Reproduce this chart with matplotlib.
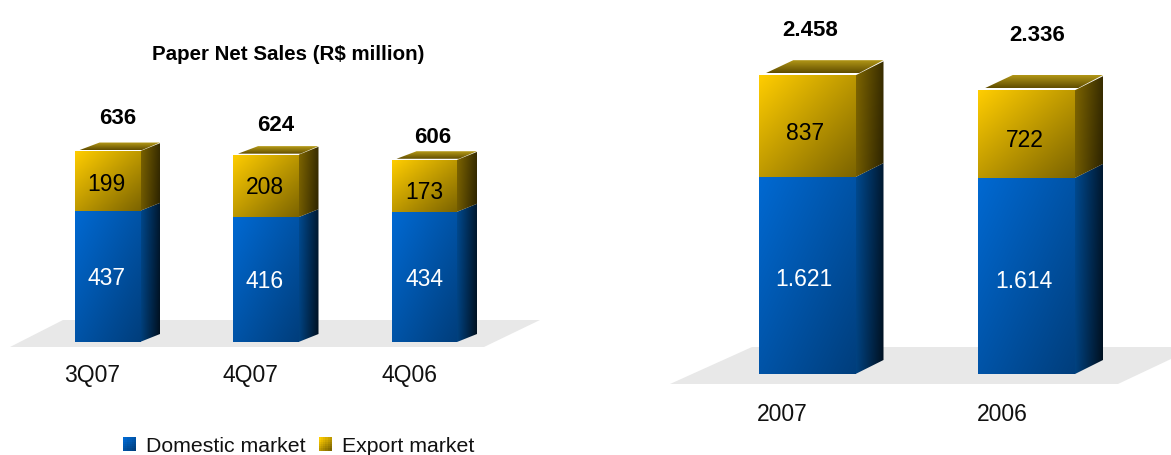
import numpy as np
import matplotlib
matplotlib.use("Agg")
import matplotlib.pyplot as plt
from matplotlib.colors import to_rgb
from matplotlib.legend_handler import HandlerBase
from matplotlib.patches import Patch, Polygon, Rectangle
from matplotlib.transforms import ScaledTranslation

plt.rcParams['font.family'] = ['Liberation Sans', 'DejaVu Sans']

# ---- data ----
quarters = ['3Q07', '4Q07', '4Q06']
quarter_domestic = [437, 416, 434]
quarter_export = [199, 208, 173]
quarter_totals = ['636', '624', '606']

years = ['2007', '2006']
year_domestic = [1621, 1614]
year_export = [837, 722]
year_totals = ['2.458', '2.336']
year_domestic_labels = ['1.621', '1.614']

title = 'Paper Net Sales (R$ million)'
series_names = ['Domestic market', 'Export market']

# ---- styling ----
W, H = 1171, 455
BLUE = dict(front=('#0069D2', '#003E7C'), side=('#004A90', '#00101F'))
GOLD = dict(front=('#FFCD00', '#7C6400'), side=('#7E6500', '#2C2300'), top=('#B89C18', '#604D00'))
FLOOR = '#E8E8E8'


def ramp(c1, c2, t):
    a, b = np.array(to_rgb(c1)), np.array(to_rgb(c2))
    return a + (b - a) * t[..., None]


def fill_gradient(ax, patch, extent, c1, c2, wx=0.5, wy=0.5, zorder=3):
    """Paint a gradient over extent (x0, x1, y0, y1), clipped to the patch."""
    n = 64
    v, u = np.mgrid[0:1:n * 1j, 0:1:n * 1j]
    im = ax.imshow(ramp(c1, c2, wx * u + wy * v), extent=extent, origin='upper',
                   aspect='auto', interpolation='bilinear', zorder=zorder)
    im.set_clip_path(patch)


def bar3d(ax, x, bottom, value, width, dx, dy, colors, with_top=False):
    """Front from ax.bar, with side and top faces offset by a depth in data units."""
    front = ax.bar([x], [value], width=width, bottom=[bottom],
                   color=colors['front'][1], zorder=2)[0]
    left, right = x - width / 2, x + width / 2
    top = bottom + value
    fill_gradient(ax, front, (left, right, bottom, top), *colors['front'], zorder=3)
    side = Polygon([(right, bottom), (right + dx, bottom + dy),
                    (right + dx, top + dy), (right, top)],
                   closed=True, fc='none', ec='none', zorder=2)
    ax.add_patch(side)
    fill_gradient(ax, side, (right, right + dx, bottom, top + dy), *colors['side'],
                  wx=0.85, wy=0.15, zorder=2)
    if with_top:
        gap = dy * 0.14
        cap = Polygon([(left + width * 0.07, top + gap), (left + width * 0.07 + dx, top + dy + gap * 0.6),
                       (right + dx, top + dy + gap * 0.6), (right + width * 0.03, top + gap)],
                      closed=True, fc='none', ec='none', zorder=2)
        ax.add_patch(cap)
        fill_gradient(ax, cap, (left, right + dx, top + gap, top + dy + gap * 0.6),
                      *colors['top'], wx=0.0, wy=1.0, zorder=2)


def make_axes(fig, px_left, px_right, px_base, first_px, pitch, px_per_value, vmax):
    """Axes whose category positions and value scale land on the wanted pixels."""
    ax = fig.add_axes([px_left / W, (H - px_base) / H, (px_right - px_left) / W,
                       vmax * px_per_value / H])
    ax.set_xlim((px_left - first_px) / pitch, (px_right - first_px) / pitch)
    ax.set_ylim(0, vmax)
    ax.patch.set_alpha(0)
    for s in ax.spines.values():
        s.set_visible(False)
    ax.set_yticks([])
    return ax


def draw_group(ax, pitch, ppv, labels, dom, exp, totals, dom_labels, exp_labels, bar_px, dx_px, dy_px,
               fs, total_fs, total_off, label_shift, pad, dom_off, exp_off):
    xs = np.arange(len(labels))
    dx, dy = dx_px / pitch, dy_px / ppv
    w = bar_px / pitch
    for i, x in enumerate(xs):
        bar3d(ax, x, 0, dom[i], w, dx, dy, BLUE)
        bar3d(ax, x, dom[i], exp[i], w, dx, dy, GOLD, with_top=True)
        ax.annotate(dom_labels[i], (x, dom[i] / 2),
                    xytext=(dom_off[i][0] * 0.72, dom_off[i][1] * 0.72), textcoords='offset points',
                    ha='center', va='center', color='white', fontsize=fs, zorder=6)
        ax.annotate(exp_labels[i], (x, dom[i] + exp[i] / 2),
                    xytext=(exp_off[i][0] * 0.72, exp_off[i][1] * 0.72), textcoords='offset points',
                    ha='center', va='center', color='black', fontsize=fs, zorder=6)
        ox, oy = total_off[i]
        ax.annotate(totals[i], (x, dom[i] + exp[i]), xytext=(ox * 0.72, oy * 0.72), textcoords='offset points',
                    ha='center', va='center', color='black', fontsize=total_fs,
                    fontweight='bold', zorder=6)
    ax.set_xticks(xs, labels, fontsize=fs)
    ax.tick_params(axis='x', length=0, pad=pad, colors='#111111')
    shift = ScaledTranslation(label_shift / 100, 0, ax.figure.dpi_scale_trans)
    for lab in ax.get_xticklabels():
        lab.set_transform(lab.get_transform() + shift)


class GradientSquare(HandlerBase):
    def __init__(self, c1, c2):
        super().__init__()
        self.c1, self.c2 = c1, c2

    def create_artists(self, legend, orig, xd, yd, width, height, fontsize, trans):
        n = 6
        s = 9.5
        x0, y0 = -xd + width - s, -yd + (height - s) / 2
        out = []
        for i in range(n):
            for j in range(n):
                t = np.array((i + (n - 1 - j)) / (2 * n - 2))
                out.append(Rectangle((x0 + i * s / n, y0 + j * s / n), s / n + 0.1, s / n + 0.1,
                                     fc=ramp(self.c1, self.c2, t), ec='none', transform=trans))
        return out


fig = plt.figure(figsize=(W / 100, H / 100), dpi=100)

# floor planes, in figure pixels
bg = fig.add_axes([0, 0, 1, 1])
bg.set_xlim(0, W)
bg.set_ylim(H, 0)
bg.axis('off')
bg.add_patch(Polygon([(10, 347), (63, 320), (540, 320), (484, 347)], closed=True, fc=FLOOR, ec='none'))
bg.add_patch(Polygon([(670, 384), (752, 347), (1171, 347), (1171, 359), (1118, 384)], closed=True, fc=FLOOR, ec='none'))

# left group
ppv_l = 0.3
pitch_l = 158.5
axl = make_axes(fig, 0, 585, 342, 107.5, pitch_l, ppv_l, 700)
draw_group(axl, pitch_l, ppv_l, quarters, quarter_domestic, quarter_export, quarter_totals,
           [str(v) for v in quarter_domestic], [str(v) for v in quarter_export],
           bar_px=65, dx_px=20, dy_px=8,
           fs=16.5, total_fs=16, total_off=[(10, 33), (10, 29), (8, 22)],
           label_shift=-15.5, pad=16, dom_off=[(-1, -2), (-1, -2), (0, -3)],
           exp_off=[(-1, -3), (-1, -2), (0, -7)])

# right group
ppv_r = 0.1215
pitch_r = 219.5
axr = make_axes(fig, 640, 1171, 374, 807, pitch_r, ppv_r, 3000)
draw_group(axr, pitch_r, ppv_r, years, year_domestic, year_export, year_totals,
           year_domestic_labels, [str(v) for v in year_export],
           bar_px=97, dx_px=28, dy_px=14,
           fs=16.5, total_fs=16, total_off=[(3, 45), (11, 55)],
           label_shift=-24.5, pad=21, dom_off=[(-3, -4), (-3, -6)], exp_off=[(-2, -7), (-2, -6)])

fig.text(288.5 / W, 1 - 54.5 / H, title, ha='center', va='center', fontsize=14.8, fontweight='bold', color='black')

handles = [Patch(label=series_names[0]), Patch(label=series_names[1])]
leg = axl.legend(handles=handles,
                 handler_map={handles[0]: GradientSquare(*BLUE['front']),
                              handles[1]: GradientSquare(*GOLD['front'])},
                 loc='center left', bbox_to_anchor=(115 / W, 1 - 446 / H),
                 bbox_transform=fig.transFigure, ncols=2, frameon=False, fontsize=15.3,
                 handlelength=1.0, handletextpad=0.45, columnspacing=0.25,
                 borderpad=0, borderaxespad=0, labelcolor='#111111')

fig.savefig('out.png', dpi=100)
